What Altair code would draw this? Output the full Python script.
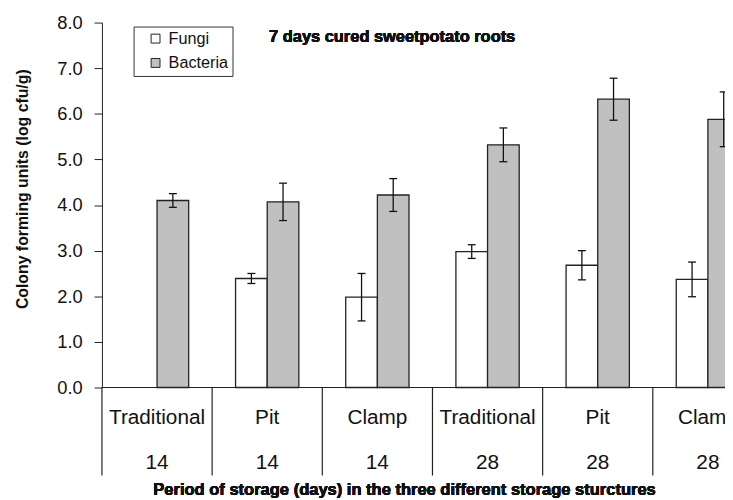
import altair as alt
import pandas as pd

# ---- data ----
structures = ["Traditional", "Pit", "Clamp", "Traditional", "Pit", "Clamp"]
days = ["14", "14", "14", "28", "28", "28"]
fungi = [None, 2.39, 1.98, 2.98, 2.68, 2.37]
fungi_se = [None, 0.11, 0.52, 0.15, 0.32, 0.38]
bacteria = [4.10, 4.07, 4.22, 5.32, 6.32, 5.88]
bacteria_se = [0.15, 0.41, 0.36, 0.37, 0.46, 0.60]
y_ticks = [0, 1, 2, 3, 4, 5, 6, 7, 8]

# ---- layout ----
W, H = 630, 369
G = 111.4                     # pixel width of one group
BW = 32 / G                   # bar width in group units
CAP = 4 / G                   # half width of error caps
FONT = "Liberation Sans"
INK = "#111111"
NB = "\u00a0"

rows = []
for i in range(len(structures)):
    c = i + 0.5
    for name, vals, ses, x0, x1 in [("Fungi", fungi, fungi_se, c - BW, c),
                                    ("Bacteria", bacteria, bacteria_se, c, c + BW)]:
        v = vals[i]
        if v is None:
            continue
        xm = (x0 + x1) / 2
        rows.append(dict(series=name, x0=x0, x1=x1, xm=xm, cl=xm - CAP, cr=xm + CAP,
                         v=v, lo=v - ses[i], hi=v + ses[i]))
df = pd.DataFrame(rows)

cats = pd.DataFrame({"c": [i + 0.5 for i in range(len(structures))],
                     "s": structures, "d": days})
divs = pd.DataFrame({"b": list(range(len(structures) + 1))})

xs = alt.Scale(domain=[0, W / G], nice=False, zero=False)
ys = alt.Scale(domain=[0, 8], nice=False)

bars = alt.Chart(df).mark_bar(stroke="#222222", strokeWidth=1.3).encode(
    x=alt.X("x0:Q", scale=xs, axis=None),
    x2="x1:Q",
    y=alt.Y("v:Q", scale=ys, axis=alt.Axis(
        values=y_ticks, format=".1f", title="Colony forming units (log cfu/g)",
        labelFontSize=18.5, labelFont=FONT, labelColor=INK, labelPadding=12,
        tickSize=8, tickColor="#222222", domainColor="#222222", grid=False,
        titleFont=FONT, titleFontSize=16, titleFontWeight="bold", titleColor=INK,
        titleX=-80, titleY=168, titleAngle=270, titleAlign="center",
        titleBaseline="middle")),
    y2=alt.datum(0),
    fill=alt.Fill("series:N", scale=alt.Scale(domain=["Fungi", "Bacteria"],
                                              range=["white", "#c0c0c0"]),
                  legend=alt.Legend(title=None, orient="none", legendX=32, legendY=4,
                                    symbolType="square", symbolSize=81,
                                    symbolStrokeColor="#222222", symbolStrokeWidth=1,
                                    symbolOffset=10, labelOffset=5,
                                    labelFont=FONT, labelFontSize=16.4, labelColor=INK,
                                    labelExpr="datum.label + '" + NB * 5 + "'",
                                    rowPadding=7.6, padding=4,
                                    strokeColor="#333333", fillColor="white")),
)

err = alt.Chart(df).mark_rule(color="#111111", strokeWidth=1.3).encode(
    x="xm:Q", y="lo:Q", y2="hi:Q")
cap_hi = alt.Chart(df).mark_rule(color="#111111", strokeWidth=1.3).encode(
    x="cl:Q", x2="cr:Q", y="hi:Q")
cap_lo = alt.Chart(df).mark_rule(color="#111111", strokeWidth=1.3).encode(
    x="cl:Q", x2="cr:Q", y="lo:Q")

baseline = alt.Chart(divs).mark_rule(color="#222222", strokeWidth=1.2).encode(
    x=alt.value(0), x2=alt.value(W), y=alt.datum(0))

dividers = alt.Chart(divs).mark_rule(color="#222222", strokeWidth=1.2).encode(
    x=alt.X("b:Q", scale=xs), y=alt.value(H), y2=alt.value(H + 89))

lab_s = alt.Chart(cats).mark_text(font=FONT, fontSize=21, color=INK).encode(
    x=alt.X("c:Q", scale=xs), y=alt.value(H + 31), text="s:N")
lab_d = alt.Chart(cats).mark_text(font=FONT, fontSize=21, color=INK).encode(
    x=alt.X("c:Q", scale=xs), y=alt.value(H + 76), text="d:N")

xtitle = alt.Chart(divs).mark_text(
    font=FONT, fontSize=16.7, fontWeight="bold", color=INK,
    text="Period of storage (days) in the three different storage sturctures"
).encode(x=alt.value(306), y=alt.value(H + 104))

title = alt.Chart(divs).mark_text(
    font=FONT, fontSize=16.6, fontWeight="bold", color=INK, align="left",
    text="7 days cured sweetpotato roots"
).encode(x=alt.value(169), y=alt.value(14.5))

chart = alt.layer(bars, err, cap_hi, cap_lo, baseline, dividers, lab_s, lab_d,
                  xtitle, title).properties(
    width=W, height=H,
    autosize=alt.AutoSizeParams(type="none"),
    padding={"left": 95, "top": 12, "right": 0, "bottom": 111},
).configure_view(stroke=None)

chart.save("out.html", embed_options={"renderer": "svg", "actions": False})
